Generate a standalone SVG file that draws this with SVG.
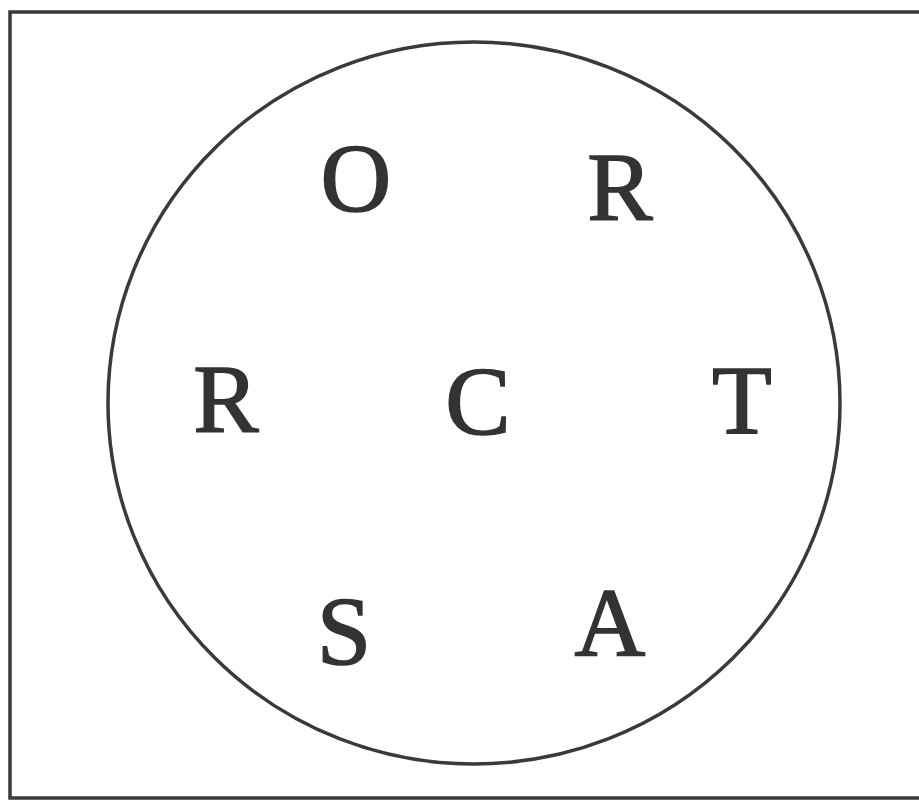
<svg xmlns="http://www.w3.org/2000/svg" width="919" height="801" viewBox="0 0 919 801">
<style>
.lbl{font-family:"Liberation Serif","DejaVu Serif",serif;font-size:98px;fill:#333;stroke:#333;stroke-width:1.6;text-anchor:middle}
.ln{fill:none;stroke:#3a3a3a;stroke-width:3.5}
</style>
<rect width="919" height="801" fill="#fff"/>
<rect class="ln" x="10" y="12" width="930" height="786"/>
<ellipse class="ln" cx="474" cy="403" rx="366" ry="361"/>
<g id="n-O"><text class="lbl" x="356" y="211">O</text></g>
<g id="n-R1"><text class="lbl" x="620" y="220">R</text></g>
<g id="n-R2"><text class="lbl" x="226" y="432">R</text></g>
<g id="n-C"><text class="lbl" x="478" y="434">C</text></g>
<g id="n-T"><text class="lbl" x="742" y="433">T</text></g>
<g id="n-S"><text class="lbl" x="344" y="664">S</text></g>
<g id="n-A"><text class="lbl" x="610" y="655">A</text></g>
<g id="connectors"></g>
</svg>
